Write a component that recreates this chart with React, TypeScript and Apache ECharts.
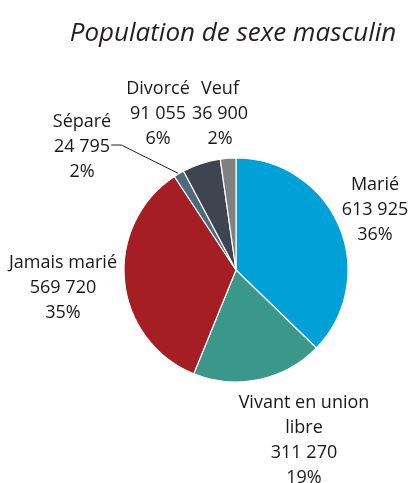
import React, { useEffect, useRef } from "react";
import * as echarts from "echarts";

const categories = ["Marié", "Vivant en union libre", "Jamais marié", "Séparé", "Divorcé", "Veuf"];
const values = [613925, 311270, 569720, 24795, 91055, 36900];
const percents = [36, 19, 35, 2, 6, 2];
const colors = ["#00a1d6", "#3a988a", "#a41e23", "#4f6a7c", "#3e4551", "#808080"];
const labelNames = ["Marié", "Vivant en union\nlibre", "Jamais marié", "Séparé", "Divorcé", "Veuf"];
const titleText = "Population de sexe masculin";
// label block centers (layout, px)
const labelPos = [
  [375, 208],
  [304, 438],
  [63, 286],
  [82, 145],
  [158, 112],
  [220, 112],
];

const fmt = (n: number) => String(n).replace(/\B(?=(\d{3})+(?!\d))/g, " ");

export default function App() {
  const ref = useRef<HTMLDivElement>(null);
  useEffect(() => {
    if (!ref.current) return;
    const chart = echarts.init(ref.current, undefined, { renderer: "svg" });
    const font = "'Open Sans', 'Noto Sans', sans-serif";
    chart.setOption({
      animation: false,
      graphic: [
        {
          type: "text",
          x: 233,
          y: 31,
          style: {
            text: titleText,
            fontFamily: font,
            fontStyle: "italic",
            fontSize: 26,
            fill: "#231f20",
            align: "center",
            verticalAlign: "middle",
          },
        },
      ],
      series: [
        {
          type: "pie",
          center: [236, 270],
          radius: [0, 112],
          startAngle: 90,
          clockwise: true,
          itemStyle: { borderColor: "#ffffff", borderWidth: 1.2 },
          label: {
            show: true,
            fontFamily: font,
            fontSize: 18,
            lineHeight: 25,
            color: "#1a1718",
            align: "center",
            overflow: "none",
            formatter: (p: any) => `${labelNames[p.dataIndex]}\n${fmt(p.value)}\n${percents[p.dataIndex]}%`,
          },
          labelLine: { show: false },
          labelLayout: (p: any) => ({
            x: labelPos[p.dataIndex][0],
            y: labelPos[p.dataIndex][1],
            align: "center",
            verticalAlign: "middle",
          }),
          emphasis: { disabled: true },
          data: categories.map((c, i) => ({
            name: c,
            value: values[i],
            itemStyle: { color: colors[i] },
            labelLine:
              i === 3
                ? { show: true, length: 10, length2: 10, lineStyle: { color: "#231f20", width: 1 } }
                : { show: false },
          })),
        },
      ],
    });
    return () => chart.dispose();
  }, []);
  return <div ref={ref} style={{ position: "fixed", left: 0, top: 0, width: 413, height: 483 }} />;
}
